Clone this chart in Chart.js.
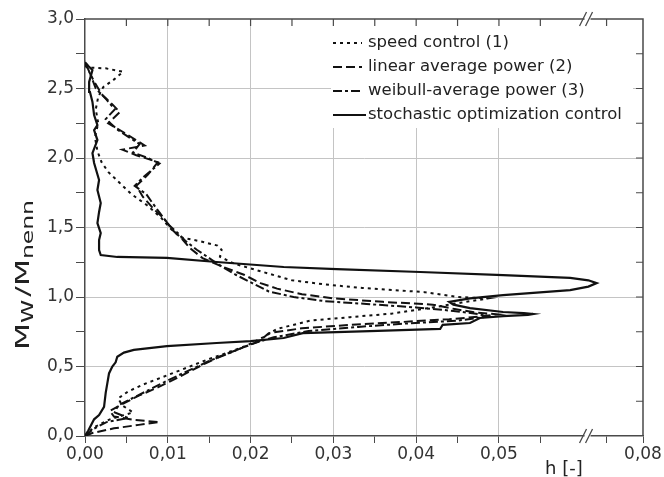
<!DOCTYPE html>
<html><head><meta charset="utf-8">
<script src="https://cdn.jsdelivr.net/npm/chart.js@4"></script>
<style>html,body{margin:0;padding:0;background:#fff}#wrap{width:664px;height:477px}</style>
</head><body><div id="wrap"><canvas id="c" width="664" height="477"></canvas></div>
<script>
// ---------- axis definitions ----------
const X_MAJOR = [0, 0.01, 0.02, 0.03, 0.04, 0.05];
const X_MINOR = [0.005, 0.015, 0.025, 0.035, 0.045, 0.055, 0.063];
const X_END = 0.0674;          // position of the last (post-break) tick
const X_END_LABEL = '0,08';
const X_BREAK = 0.0607;        // axis break position
const Y_TICKS = [0, 0.25, 0.5, 0.75, 1, 1.25, 1.5, 1.75, 2, 2.25, 2.5, 2.75, 3];
const SERIES_NAMES = ['speed control (1)', 'linear average power (2)', 'weibull-average power (3)', 'stochastic optimization control'];

// ---------- data: [h, M_W/M_nenn] ----------
const SPEED = [[0,0],[0.0010,0.06],[0.0030,0.12],[0.0058,0.17],[0.0045,0.22],[0.0040,0.27],[0.0052,0.32],[0.0070,0.37],[0.0092,0.42],[0.0118,0.48],[0.0148,0.55],[0.0172,0.60],[0.0195,0.65],[0.0215,0.71],[0.0232,0.77],[0.0272,0.83],[0.0320,0.855],[0.0370,0.88],[0.0420,0.925],[0.0455,0.96],[0.0487,0.99],[0.0450,1.00],[0.0410,1.035],[0.0335,1.065],[0.0290,1.09],[0.0250,1.12],[0.0215,1.18],[0.0180,1.24],[0.0163,1.29],[0.0165,1.34],[0.0160,1.37],[0.0140,1.40],[0.0115,1.43],[0.0102,1.50],[0.0092,1.57],[0.0075,1.66],[0.0056,1.74],[0.0042,1.82],[0.0028,1.90],[0.0020,1.97],[0.0015,2.05],[0.0012,2.15],[0.0016,2.25],[0.0013,2.35],[0.0016,2.44],[0.0022,2.51],[0.0034,2.56],[0.0046,2.62],[0.0025,2.645],[0.0008,2.65],[0.0000,2.66]];
const LINEAR = [[0,0],[0.0008,0.02],[0.0035,0.055],[0.0065,0.08],[0.0090,0.10],[0.0060,0.115],[0.0035,0.14],[0.0030,0.18],[0.0045,0.23],[0.0065,0.29],[0.0088,0.35],[0.0112,0.42],[0.0138,0.50],[0.0162,0.57],[0.0188,0.63],[0.0210,0.68],[0.0222,0.74],[0.0262,0.775],[0.0322,0.80],[0.0382,0.82],[0.0440,0.84],[0.0478,0.86],[0.0498,0.875],[0.0470,0.89],[0.0445,0.915],[0.0420,0.945],[0.0360,0.965],[0.0300,0.99],[0.0262,1.02],[0.0232,1.06],[0.0212,1.10],[0.0192,1.16],[0.0165,1.22],[0.0142,1.28],[0.0127,1.35],[0.0117,1.42],[0.0106,1.48],[0.0096,1.56],[0.0082,1.64],[0.0070,1.72],[0.0062,1.80],[0.0076,1.88],[0.0088,1.97],[0.0062,2.02],[0.0045,2.06],[0.0072,2.09],[0.0048,2.18],[0.0028,2.25],[0.0042,2.33],[0.0034,2.38],[0.0020,2.46],[0.0011,2.55],[0.0005,2.62],[0,2.68]];
const WEIBULL = [[0,0],[0.0010,0.05],[0.0026,0.10],[0.0052,0.13],[0.0036,0.17],[0.0040,0.22],[0.0060,0.28],[0.0080,0.34],[0.0100,0.40],[0.0125,0.47],[0.0150,0.54],[0.0176,0.60],[0.0200,0.66],[0.0228,0.71],[0.0270,0.755],[0.0330,0.785],[0.0390,0.81],[0.0450,0.83],[0.0488,0.86],[0.0472,0.88],[0.0445,0.90],[0.0400,0.925],[0.0340,0.95],[0.0290,0.97],[0.0252,1.00],[0.0222,1.04],[0.0202,1.10],[0.0182,1.16],[0.0165,1.22],[0.0150,1.28],[0.0135,1.34],[0.0122,1.40],[0.0112,1.46],[0.0101,1.52],[0.0091,1.60],[0.0081,1.68],[0.0074,1.74],[0.0060,1.80],[0.0070,1.86],[0.0090,1.96],[0.0076,2.00],[0.0058,2.04],[0.0066,2.10],[0.0040,2.20],[0.0025,2.28],[0.0036,2.35],[0.0026,2.42],[0.0013,2.50],[0.0008,2.58],[0.0003,2.65],[0,2.70]];
const STOCH = [[0,0],[0.0004,0.04],[0.0011,0.12],[0.0017,0.15],[0.0023,0.21],[0.0025,0.31],[0.0027,0.38],[0.0029,0.45],[0.0033,0.50],[0.0037,0.53],[0.0039,0.57],[0.0047,0.60],[0.0059,0.62],[0.0099,0.647],[0.0159,0.669],[0.0200,0.683],[0.0240,0.705],[0.0263,0.74],[0.0344,0.755],[0.0429,0.77],[0.0432,0.80],[0.0465,0.813],[0.0477,0.849],[0.0505,0.863],[0.0535,0.872],[0.0541,0.878],[0.0530,0.884],[0.0505,0.892],[0.0465,0.92],[0.0445,0.945],[0.0440,0.965],[0.0465,0.99],[0.0505,1.014],[0.0586,1.05],[0.0608,1.075],[0.0618,1.10],[0.0608,1.12],[0.0586,1.137],[0.0505,1.158],[0.0405,1.18],[0.0304,1.201],[0.0240,1.216],[0.0159,1.252],[0.0099,1.281],[0.0039,1.288],[0.0019,1.302],[0.0017,1.338],[0.0017,1.41],[0.0019,1.46],[0.0015,1.532],[0.0017,1.612],[0.0019,1.676],[0.0015,1.77],[0.0017,1.842],[0.0011,1.964],[0.0009,2.036],[0.0015,2.129],[0.0011,2.201],[0.0015,2.237],[0.0011,2.309],[0.0009,2.403],[0.0006,2.475],[0.0005,2.547],[0.0009,2.633],[0.0004,2.662],[0,2.69]];

const DASHES = [[3,4],[9,4],[9,3,3,3],[]];
const FONT = '"DejaVu Sans", Verdana, sans-serif';

const toXY = arr => arr.map(p => ({x: p[0], y: p[1]}));
const near = (a, b) => Math.abs(a - b) < 1e-9;
const isMajorX = v => X_MAJOR.some(m => near(m, v));
const xLabel = v => near(v, X_END) ? X_END_LABEL : (isMajorX(v) ? v.toFixed(2).replace('.', ',') : '');
const yLabel = v => near(v * 2, Math.round(v * 2)) ? v.toFixed(1).replace('.', ',') : '';

const SERIES = [SPEED, LINEAR, WEIBULL, STOCH];

const deco = {
  id: 'deco',
  beforeDatasetsDraw(chart) {
    const {ctx, chartArea: a} = chart;
    ctx.save();
    ctx.fillStyle = '#fff';
    ctx.fillRect(331, a.top + 1, 302, 108);
    ctx.restore();
  },
  afterDraw(chart) {
    const {ctx, chartArea: a} = chart;
    const xs = chart.scales.x, ys = chart.scales.y;
    ctx.save();
    ctx.strokeStyle = '#4a4a4a';
    ctx.lineWidth = 1.5;
    // top & right frame
    ctx.beginPath();
    ctx.moveTo(a.left, a.top); ctx.lineTo(a.right, a.top); ctx.lineTo(a.right, a.bottom);
    ctx.stroke();
    // inward ticks top
    ctx.lineWidth = 1.2;
    ctx.beginPath();
    [...X_MAJOR, ...X_MINOR].forEach(v => {
      if (v === 0) return;
      const px = xs.getPixelForValue(v);
      ctx.moveTo(px, a.top); ctx.lineTo(px, a.top + 7);
    });
    // inward ticks right
    Y_TICKS.forEach(v => {
      if (v === 0 || v === 3) return;
      const py = ys.getPixelForValue(v);
      ctx.moveTo(a.right, py); ctx.lineTo(a.right - 7, py);
    });
    ctx.stroke();
    // axis breaks
    const bx = xs.getPixelForValue(X_BREAK);
    [a.top, a.bottom].forEach(by => {
      ctx.fillStyle = '#fff';
      ctx.fillRect(bx - 3, by - 2, 6, 4);
      ctx.strokeStyle = '#4a4a4a';
      ctx.lineWidth = 1.3;
      ctx.beginPath();
      ctx.moveTo(bx - 8, by + 7); ctx.lineTo(bx - 1, by - 7);
      ctx.moveTo(bx - 2, by + 7); ctx.lineTo(bx + 5, by - 7);
      ctx.stroke();
    });
    // legend
    ctx.font = '16.5px ' + FONT;
    ctx.textBaseline = 'middle';
    ctx.textAlign = 'left';
    SERIES_NAMES.forEach((name, i) => {
      const ry = 43 + 24 * i;
      ctx.strokeStyle = '#111';
      ctx.lineWidth = 2.2;
      ctx.setLineDash(DASHES[i]);
      ctx.beginPath();
      ctx.moveTo(333, ry); ctx.lineTo(i === 3 ? 366 : 362, ry);
      ctx.stroke();
      ctx.setLineDash([]);
      ctx.fillStyle = '#222';
      ctx.fillText(name, 368, ry);
    });
    // x title
    ctx.font = '18px ' + FONT;
    ctx.textBaseline = 'alphabetic';
    ctx.fillStyle = '#222';
    ctx.fillText('h [-]', 545, 474);
    // y title (rotated, with subscripts), stretched along its direction to the reference length
    ctx.translate(29, 350);
    ctx.rotate(-Math.PI / 2);
    const parts = [['M', 20, 0], ['W', 15, 4], ['/', 20, 0], ['M', 20, 0], ['nenn', 15, 4]];
    let total = 0;
    parts.forEach(([t, s]) => { ctx.font = s + 'px ' + FONT; total += ctx.measureText(t).width; });
    total += 2;
    ctx.scale(150 / total, 1);
    let cx = 0;
    parts.forEach(([t, s, dy]) => {
      ctx.font = s + 'px ' + FONT;
      ctx.fillText(t, cx, dy);
      cx += ctx.measureText(t).width + (t === 'W' ? 2 : 0);
    });
    ctx.restore();
  }
};

new Chart(document.getElementById('c'), {
  type: 'scatter',
  data: {
    datasets: SERIES.map((s, i) => ({
      label: SERIES_NAMES[i],
      data: toXY(s),
      showLine: true,
      borderColor: '#111',
      borderWidth: i === 3 ? 2.2 : 2,
      borderDash: DASHES[i],
      pointRadius: 0,
      tension: 0,
      fill: false
    }))
  },
  options: {
    responsive: false,
    animation: false,
    devicePixelRatio: 1,
    layout: {padding: {top: 19, right: 21, left: 0, bottom: 0}},
    plugins: {legend: {display: false}, tooltip: {enabled: false}},
    scales: {
      x: {
        type: 'linear', min: 0, max: X_END,
        afterBuildTicks(s) { s.ticks = [...X_MAJOR, ...X_MINOR, X_END].sort((a, b) => a - b).map(v => ({value: v})); },
        afterFit(s) { s.height = 41; },
        ticks: {autoSkip: false, maxRotation: 0, padding: 1, color: '#333', font: {family: FONT, size: 17}, callback: v => xLabel(v)},
        grid: {color: c => (c.tick && isMajorX(c.tick.value) && c.tick.value > 0) ? '#c4c4c4' : 'rgba(0,0,0,0)', tickColor: '#4a4a4a', tickLength: 7, lineWidth: 1},
        border: {display: true, color: '#4a4a4a', width: 1.5}
      },
      y: {
        type: 'linear', min: 0, max: 3,
        afterBuildTicks(s) { s.ticks = Y_TICKS.map(v => ({value: v})); },
        afterFit(s) { s.width = 85; },
        ticks: {autoSkip: false, padding: 2, color: '#333', font: {family: FONT, size: 17}, callback: v => yLabel(v)},
        grid: {color: c => (c.tick && yLabel(c.tick.value) !== '' && c.tick.value > 0 && c.tick.value < 3) ? '#c4c4c4' : 'rgba(0,0,0,0)', tickColor: '#4a4a4a', tickLength: 9, lineWidth: 1},
        border: {display: true, color: '#4a4a4a', width: 1.5}
      }
    }
  },
  plugins: [deco]
});
</script>
</body></html>
